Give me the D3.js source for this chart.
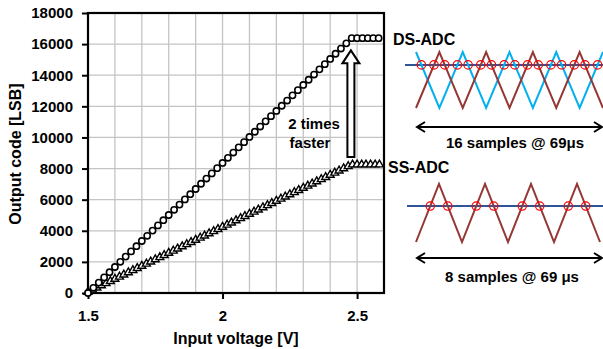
<!DOCTYPE html>
<html>
<head>
<meta charset="utf-8">
<script src="https://cdn.jsdelivr.net/npm/d3@7"></script>
<style>
  body { margin: 0; background: #fff; }
  text { font-family: "Liberation Sans", Arial, sans-serif; font-weight: bold; fill: #000; }
</style>
</head>
<body>
<svg id="chart" width="603" height="349"></svg>
<script>
// DS-ADC: input voltage (V) and output code (circles)
var dsVolt = [1.50,1.52,1.54,1.56,1.58,1.60,1.62,1.64,1.66,1.68,1.70,1.72,1.74,1.76,1.78,1.80,1.82,1.84,1.86,1.88,
  1.90,1.92,1.94,1.96,1.98,2.00,2.02,2.04,2.06,2.08,2.10,2.12,2.14,2.16,2.18,2.20,2.22,2.24,2.26,2.28,
  2.30,2.32,2.34,2.36,2.38,2.40,2.42,2.44,2.46,2.48,2.50,2.52,2.54,2.56,2.58];
var dsCode = [0,334,669,1003,1337,1672,2006,2341,2675,3009,3344,3678,4012,4347,4681,5015,5350,5684,6018,6353,
  6687,7022,7356,7690,8025,8359,8693,9028,9362,9696,10031,10365,10700,11034,11368,11703,12037,12371,12706,13040,
  13374,13709,14043,14377,14712,15046,15381,15715,16049,16383,16383,16383,16383,16383,16383];
// SS-ADC: input voltage (V) and output code (triangles)
var ssVolt = [1.500,1.517,1.533,1.550,1.567,1.583,1.600,1.617,1.633,1.650,1.667,1.683,1.700,1.717,1.733,1.750,
  1.767,1.783,1.800,1.817,1.833,1.850,1.867,1.883,1.900,1.917,1.933,1.950,1.967,1.983,2.000,2.017,2.033,2.050,
  2.067,2.083,2.100,2.117,2.133,2.150,2.167,2.183,2.200,2.217,2.233,2.250,2.267,2.283,2.300,2.317,2.333,2.350,
  2.367,2.383,2.400,2.417,2.433,2.450,2.467,2.483,2.500,2.517,2.533,2.550,2.567,2.583];
var ssCode = [0,139,279,418,557,697,836,975,1114,1254,1393,1532,1672,1811,1950,2090,2229,2368,2507,2647,
  2786,2925,3065,3204,3343,3483,3622,3761,3900,4040,4179,4318,4458,4597,4736,4876,5015,5154,5293,5433,
  5572,5711,5851,5990,6129,6269,6408,6547,6686,6826,6965,7104,7244,7383,7522,7662,7801,7940,8079,
  8191,8191,8191,8191,8191,8191,8191];
var yTicks = [0,2000,4000,6000,8000,10000,12000,14000,16000,18000];
var xTicks = [1.5, 2, 2.5];
var xGrid = [1.6,1.7,1.8,1.9,2.0,2.1,2.2,2.3,2.4,2.5];

// ramp sketches (half-period index -> level 0 bottom / 1 top)
var dsRed = [0,1,0,1,0,1,0,1,0];
var dsCyan = [1,0,1,0,1,0,1,0,1];
var dsRef = 0.77;
var ssRamp = [0,1,0,1,0,1,0,1,0];
var ssRef = 0.62;

var svg = d3.select("#chart");
var x = d3.scaleLinear().domain([1.5, 2.6]).range([88, 384]);
var y = d3.scaleLinear().domain([0, 18000]).range([293, 13]);

// grid
svg.append("g").selectAll("line").data(xGrid).enter().append("line")
  .attr("x1", function (d) { return x(d); }).attr("x2", function (d) { return x(d); })
  .attr("y1", y(0)).attr("y2", y(18000))
  .attr("stroke", "#c4c4c4").attr("stroke-width", 1.3);
svg.append("g").selectAll("line").data(yTicks.slice(1, -1)).enter().append("line")
  .attr("x1", x(1.5)).attr("x2", x(2.6))
  .attr("y1", function (d) { return y(d); }).attr("y2", function (d) { return y(d); })
  .attr("stroke", "#c4c4c4").attr("stroke-width", 1.3);

// axes
var yAxis = svg.append("g").attr("transform", "translate(" + x(1.5) + ",0)")
  .call(d3.axisLeft(y).tickValues(yTicks).tickSize(6).tickPadding(9).tickFormat(d3.format("d")));
var xAxis = svg.append("g").attr("transform", "translate(0," + y(0) + ")")
  .call(d3.axisBottom(x).tickValues(xTicks).tickSize(6).tickPadding(11).tickFormat(function (d) { return d; }));
[yAxis, xAxis].forEach(function (a) {
  a.select(".domain").remove();
  a.selectAll(".tick line").attr("stroke", "#000").attr("stroke-width", 2);
  a.selectAll(".tick text").attr("font-size", 15).attr("font-family", null).attr("fill", "#000");
});

// plot frame
svg.append("rect").attr("x", x(1.5)).attr("y", y(18000))
  .attr("width", x(2.6) - x(1.5)).attr("height", y(0) - y(18000))
  .attr("fill", "none").attr("stroke", "#000").attr("stroke-width", 2.2);

// SS-ADC triangles
var tri = d3.symbol().type(d3.symbolTriangle).size(27);
svg.append("g").selectAll("path").data(ssVolt).enter().append("path")
  .attr("d", tri)
  .attr("transform", function (d, i) { return "translate(" + x(d) + "," + (y(ssCode[i]) - 1) + ")"; })
  .attr("fill", "#fff").attr("stroke", "#000").attr("stroke-width", 1.4);

// DS-ADC circles
svg.append("g").selectAll("circle").data(dsVolt).enter().append("circle")
  .attr("cx", function (d) { return x(d); })
  .attr("cy", function (d, i) { return y(dsCode[i]); })
  .attr("r", 3.1)
  .attr("fill", "#fff").attr("stroke", "#000").attr("stroke-width", 1.6);

// "2 times faster" block arrow
var ax = x(2.477), aBot = y(8750), aTop = y(15600);
var sw = 3.5, hw = 8.5, hh = 13;
svg.append("path")
  .attr("d", "M" + (ax - sw) + "," + aBot + "L" + (ax - sw) + "," + (aTop + hh) + "L" + (ax - hw) + "," + (aTop + hh) +
    "L" + ax + "," + aTop + "L" + (ax + hw) + "," + (aTop + hh) + "L" + (ax + sw) + "," + (aTop + hh) +
    "L" + (ax + sw) + "," + aBot + "Z")
  .attr("fill", "#fff").attr("stroke", "#000").attr("stroke-width", 2);
svg.append("text").attr("x", 314).attr("y", 129).attr("text-anchor", "middle").attr("font-size", 15).text("2 times");
svg.append("text").attr("x", 310).attr("y", 148).attr("text-anchor", "middle").attr("font-size", 15).text("faster");

// axis titles
svg.append("text").attr("transform", "translate(21,154) rotate(-90)").attr("text-anchor", "middle")
  .attr("font-size", 16).text("Output code [LSB]");
svg.append("text").attr("x", 236).attr("y", 344).attr("text-anchor", "middle")
  .attr("font-size", 16).text("Input voltage [V]");

// ramp sketches on the right
function crossings(levels, ref) {
  var out = [];
  for (var i = 0; i < levels.length - 1; i++) {
    var a = levels[i], b = levels[i + 1];
    if ((a - ref) * (b - ref) < 0) out.push(i + (ref - a) / (b - a));
  }
  return out;
}

function sketch(opt) {
  var t = d3.scaleLinear().domain([0, 8]).range([opt.x0, opt.x1]);
  var lv = d3.scaleLinear().domain([0, 1]).range([opt.yBot, opt.yTop]);
  var g = svg.append("g");
  var line = d3.line().x(function (d, i) { return t(i); }).y(function (d) { return lv(d); });
  g.append("line").attr("x1", opt.refStart).attr("x2", 603)
    .attr("y1", lv(opt.ref)).attr("y2", lv(opt.ref))
    .attr("stroke", "#2f5597").attr("stroke-width", 2);
  opt.waves.forEach(function (w) {
    g.append("path").datum(w.levels).attr("d", line)
      .attr("fill", "none").attr("stroke", w.color).attr("stroke-width", 2);
  });
  var pts = [];
  opt.waves.forEach(function (w) { pts = pts.concat(crossings(w.levels, opt.ref)); });
  g.selectAll("circle.cross").data(pts).enter().append("circle")
    .attr("cx", function (d) { return t(d); }).attr("cy", lv(opt.ref)).attr("r", 4.2)
    .attr("fill", "none").attr("stroke", "#ff0000").attr("stroke-width", 1.2);
  g.append("text").attr("x", opt.titleX).attr("y", opt.titleY).attr("font-size", 16).text(opt.title);
  // double-headed arrow
  var ay = opt.arrowY, l = 417, r = 602;
  g.append("line").attr("x1", l).attr("x2", r).attr("y1", ay).attr("y2", ay)
    .attr("stroke", "#000").attr("stroke-width", 2);
  g.append("path").attr("d", "M" + (l + 8) + "," + (ay - 5) + "L" + l + "," + ay + "L" + (l + 8) + "," + (ay + 5) +
      "M" + (r - 8) + "," + (ay - 5) + "L" + r + "," + ay + "L" + (r - 8) + "," + (ay + 5))
    .attr("fill", "none").attr("stroke", "#000").attr("stroke-width", 2);
  g.append("text").attr("x", opt.labelX).attr("y", opt.labelY).attr("text-anchor", "middle")
    .attr("font-size", 15).text(opt.label);
}

sketch({ x0: 416, x1: 603, yBot: 108, yTop: 52, ref: dsRef, refStart: 405,
  waves: [{ levels: dsCyan, color: "#00b0f0" }, { levels: dsRed, color: "#953735" }],
  title: "DS-ADC", titleX: 393, titleY: 45, arrowY: 127,
  label: "16 samples @ 69\u03bcs", labelX: 515, labelY: 148 });
sketch({ x0: 416, x1: 600, yBot: 242, yTop: 184, ref: ssRef, refStart: 407,
  waves: [{ levels: ssRamp, color: "#953735" }],
  title: "SS-ADC", titleX: 388, titleY: 173, arrowY: 258,
  label: "8 samples @ 69 \u03bcs", labelX: 512, labelY: 282 });
</script>
</body>
</html>
